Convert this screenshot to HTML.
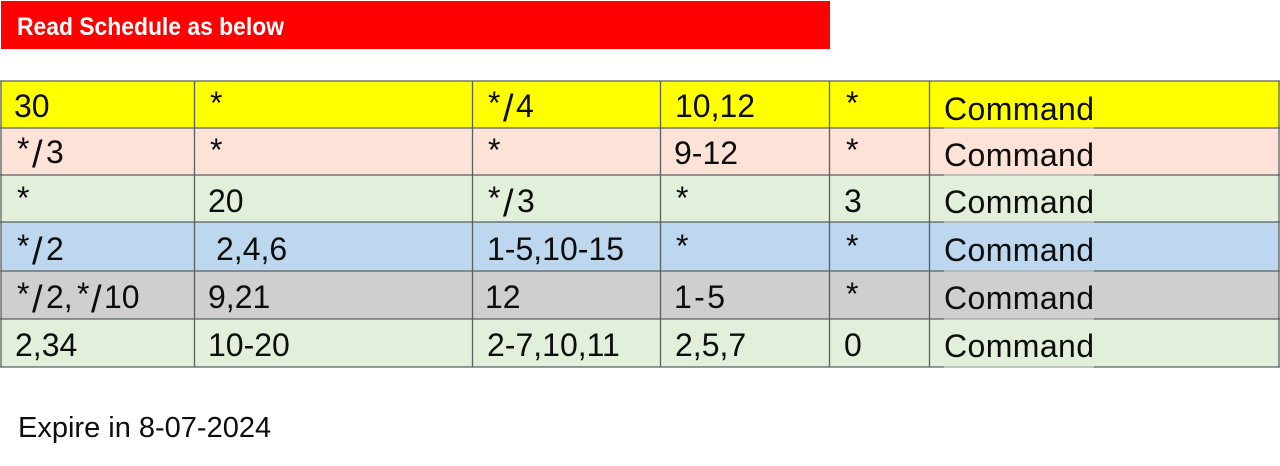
<!DOCTYPE html>
<html lang="en">
<head>
<meta charset="utf-8">
<title>Read Schedule</title>
<style>
html,body{margin:0;padding:0;background:#fff;width:1280px;height:466px;overflow:hidden}
svg{display:block}
text{font-family:"Liberation Sans",sans-serif;font-size:32px;fill:#111;filter:url(#soft)}
.sl{font-size:38px;font-weight:normal}
.grid line{stroke:#5a5f5f;stroke-width:1.3}
.fade line{stroke:#b9bdb9;stroke-width:1.3}
</style>
</head>
<body>
<svg width="1280" height="466" viewBox="0 0 1280 466" xmlns="http://www.w3.org/2000/svg">
<defs><filter id="soft" x="-5%" y="-20%" width="110%" height="140%"><feGaussianBlur stdDeviation="0.35"/></filter></defs>

<rect x="1" y="1" width="829" height="48" fill="#ff0000"/>
<text x="17" y="35" textLength="267" lengthAdjust="spacingAndGlyphs" style="font-size:25px;font-weight:bold;fill:#fff">Read Schedule as below</text>

<g>
<rect x="1" y="81" width="1278" height="47" fill="#ffff00"/>
<rect x="1" y="128" width="1278" height="47" fill="#fde3d7"/>
<rect x="1" y="175" width="1278" height="47" fill="#e2efda"/>
<rect x="1" y="222" width="1278" height="49" fill="#bdd7ee"/>
<rect x="1" y="271" width="1278" height="48" fill="#d0cece"/>
<rect x="1" y="319" width="1278" height="48" fill="#e2efda"/>
</g>

<g class="grid">
<line x1="0" x2="1280" y1="81" y2="81"/>
<line x1="0" x2="1280" y1="128" y2="128"/>
<line x1="0" x2="1280" y1="175" y2="175"/>
<line x1="0" x2="1280" y1="222" y2="222"/>
<line x1="0" x2="1280" y1="271" y2="271"/>
<line x1="0" x2="1280" y1="319" y2="319"/>
<line x1="0" x2="1280" y1="367" y2="367"/>
<line x1="1" x2="1" y1="81" y2="367"/>
<line x1="194.500" x2="194.500" y1="81" y2="367"/>
<line x1="472.500" x2="472.500" y1="81" y2="367"/>
<line x1="660.500" x2="660.500" y1="81" y2="367"/>
<line x1="829.500" x2="829.500" y1="81" y2="367"/>
<line x1="929.500" x2="929.500" y1="81" y2="367"/>
<line x1="1279" x2="1279" y1="81" y2="367"/>
</g>
<g class="fade">
<line x1="944" x2="1094" y1="128" y2="128"/>
<line x1="944" x2="1094" y1="175" y2="175"/>
<line x1="944" x2="1094" y1="222" y2="222"/>
<line x1="944" x2="1094" y1="271" y2="271"/>
<line x1="944" x2="1094" y1="319" y2="319"/>
<line x1="944" x2="1094" y1="367" y2="367"/>
</g>

<g>
<text x="14" y="117">30</text>
<text x="210" y="114">*</text>
<text y="117"><tspan x="488" dy="-3">*</tspan><tspan class="sl" x="503" dy="7">/</tspan><tspan x="516" dy="-4">4</tspan></text>
<text x="675" y="117">10,12</text>
<text x="846" y="114">*</text>
<text x="944" y="120" textLength="150">Command</text>
</g>
<g>
<text y="163"><tspan x="17" dy="-3">*</tspan><tspan class="sl" x="32" dy="7">/</tspan><tspan x="46" dy="-4">3</tspan></text>
<text x="210" y="161">*</text>
<text x="488" y="161">*</text>
<text x="674" y="164">9-12</text>
<text x="846" y="161">*</text>
<text x="944" y="166" textLength="150">Command</text>
</g>
<g>
<text x="17" y="209">*</text>
<text x="208" y="212">20</text>
<text y="212"><tspan x="488" dy="-3">*</tspan><tspan class="sl" x="503" dy="7">/</tspan><tspan x="517" dy="-4">3</tspan></text>
<text x="676" y="209">*</text>
<text x="844" y="212">3</text>
<text x="944" y="213" textLength="150">Command</text>
</g>
<g>
<text y="260"><tspan x="17" dy="-3">*</tspan><tspan class="sl" x="32" dy="7">/</tspan><tspan x="46" dy="-4">2</tspan></text>
<text x="216" y="260">2,4,6</text>
<text x="487" y="260">1-5,10-15</text>
<text x="676" y="257">*</text>
<text x="846" y="257">*</text>
<text x="944" y="261" textLength="150">Command</text>
</g>
<g>
<text y="308"><tspan x="17" dy="-3">*</tspan><tspan class="sl" x="32" dy="7">/</tspan><tspan x="46" dy="-4">2,</tspan><tspan x="77" dy="-3">*</tspan><tspan class="sl" x="91" dy="7">/</tspan><tspan x="104" dy="-4">10</tspan></text>
<text x="208" y="308">9,21</text>
<text x="485" y="308">12</text>
<text x="674" y="308" textLength="51">1-5</text>
<text x="846" y="305">*</text>
<text x="944" y="309" textLength="150">Command</text>
</g>
<g>
<text x="15" y="356">2,34</text>
<text x="208" y="356">10-20</text>
<text x="487" y="356">2-7,10,11</text>
<text x="675" y="356">2,5,7</text>
<text x="844" y="356">0</text>
<text x="944" y="357" textLength="150">Command</text>
</g>

<text x="18" y="437" style="font-size:29px">Expire in 8-07-2024</text>
</svg>
</body>
</html>
